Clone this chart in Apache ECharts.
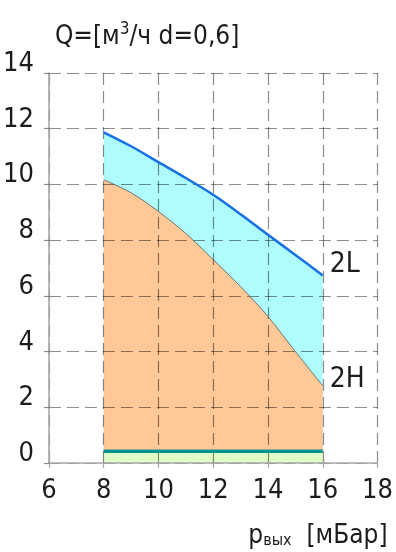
<!DOCTYPE html>
<html>
<head>
<meta charset="utf-8">
<script src="https://cdn.jsdelivr.net/npm/echarts@6/dist/echarts.min.js"></script>
<style>
html,body{margin:0;padding:0;background:#fff;}
#chart{width:396px;height:552px;}
</style>
</head>
<body>
<div id="chart"></div>
<script>
// ---- data ----
var pressure = [8, 9, 10, 11, 12, 13, 14, 15, 16];           // p вых, мБар
var flow2L   = [11.87, 11.37, 10.8, 10.23, 9.63, 8.93, 8.19, 7.47, 6.73];
var flow2H   = [10.17, 9.7, 9.03, 8.24, 7.3, 6.33, 5.26, 4.0, 2.77];
var flowMin  = [0.42, 0.42, 0.42, 0.42, 0.42, 0.42, 0.42, 0.42, 0.42];
var xTicks   = [6, 8, 10, 12, 14, 16, 18];
var yTicks   = [0, 2, 4, 6, 8, 10, 12, 14];
var curveNames = ['2L', '2H'];

function pairs(xs, ys) { return xs.map(function (x, i) { return [x, ys[i]]; }); }

var FONT = "'DejaVu Sans Condensed', 'Liberation Sans Narrow', sans-serif";
var TXT = '#1c1c1c';
var grid = 'rgba(0,0,0,0.45)';

var chart = echarts.init(document.getElementById('chart'), null, {renderer: 'canvas'});
chart.setOption({
  animation: false,
  backgroundColor: '#fff',
  grid: {left: 48, right: 12, top: 73, bottom: 89, containLabel: false},
  xAxis: {
    type: 'value', min: xTicks[0], max: xTicks[xTicks.length - 1], interval: 2, z: 4,
    name: 'p{sub|вых}  [мБар]', nameLocation: 'end', nameGap: 10,
    nameTextStyle: {
      fontFamily: FONT, fontSize: 26, color: TXT, align: 'right', verticalAlign: 'top',
      padding: [60, 0, 0, 0],
      rich: {sub: {fontFamily: FONT, fontSize: 16, color: TXT, padding: [10, 0, 0, 0]}}
    },
    axisLine: {show: true, onZero: false, lineStyle: {color: '#a8a8a8', width: 1.6}},
    axisTick: {show: true, length: 5, lineStyle: {color: '#a8a8a8', width: 1.2}},
    axisLabel: {fontFamily: FONT, fontSize: 27, color: TXT, margin: 14},
    splitLine: {show: true, lineStyle: {color: grid, type: [12, 6], width: 1.2}}
  },
  yAxis: {
    type: 'value', min: yTicks[0], max: yTicks[yTicks.length - 1], interval: 2, z: 4,
    name: 'Q=[м{sup|3}/ч d=0,6]', nameLocation: 'end', nameGap: 19,
    nameTextStyle: {
      fontFamily: FONT, fontSize: 26, color: TXT, align: 'left', padding: [0, 0, 0, 6],
      rich: {sup: {fontFamily: FONT, fontSize: 17, color: TXT, padding: [0, 0, 16, 0]}}
    },
    axisLine: {show: true, onZero: false, lineStyle: {color: '#a8a8a8', width: 1.6}},
    axisTick: {show: true, length: 5, lineStyle: {color: grid, width: 1.2}},
    axisLabel: {fontFamily: FONT, fontSize: 27, color: TXT, margin: 15, verticalAlign: 'bottom', lineHeight: 18},
    splitLine: {show: true, lineStyle: {color: grid, type: [12, 6], width: 1.2}}
  },
  series: [
    {type: 'line', name: 'fill2L', data: pairs(pressure, flow2L), smooth: 0.3, symbol: 'none', z: 1,
     lineStyle: {width: 0}, areaStyle: {color: '#aefcfc', opacity: 1}, silent: true},
    {type: 'line', name: 'fill2H', data: pairs(pressure, flow2H), smooth: 0.3, symbol: 'none', z: 2,
     lineStyle: {width: 0}, areaStyle: {color: '#ffc896', opacity: 1}, silent: true},
    {type: 'line', name: 'fillMin', data: pairs(pressure, flowMin), symbol: 'none', z: 3,
     lineStyle: {width: 0}, areaStyle: {color: '#e0fdc8', opacity: 1}, silent: true},
    {type: 'line', name: curveNames[0], data: pairs(pressure, flow2L), smooth: 0.3, symbol: 'none', z: 6,
     lineStyle: {color: '#1670e6', width: 2.5},
     endLabel: {show: true, formatter: curveNames[0], fontFamily: FONT, fontSize: 28, color: TXT, distance: 7, offset: [0, -11]}},
    {type: 'line', name: curveNames[1], data: pairs(pressure, flow2H), smooth: 0.3, symbol: 'none', z: 6,
     lineStyle: {color: '#555', width: 0.8},
     endLabel: {show: true, formatter: curveNames[1], fontFamily: FONT, fontSize: 28, color: TXT, distance: 7, offset: [0, -6]}},
    {type: 'line', name: 'min', data: pairs(pressure, flowMin), symbol: 'none', z: 6,
     lineStyle: {color: '#009490', width: 3.5}}
  ]
});
</script>
</body>
</html>
